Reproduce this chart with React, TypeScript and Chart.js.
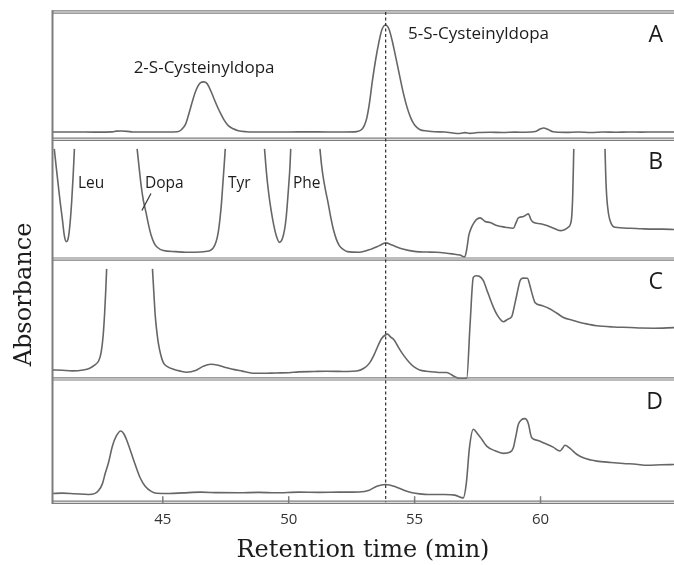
import React, { useEffect, useRef } from 'react';
import { Chart, registerables } from 'chart.js';

Chart.register(...registerables);

// ---- axis / annotation values ----
const X_MIN = 40.6;
const X_MAX = 65.3;
const X_TICKS = [45, 50, 55, 60];
const MARKER_TIME = 53.85; // dashed reference line (5-S-Cysteinyldopa)
const PANEL_NAMES = ['A', 'B', 'C', 'D'];
const X_TITLE = 'Retention time (min)';
const Y_TITLE = 'Absorbance';

// ---- chromatogram traces: [retention time (min), relative absorbance] ----
const PANEL_A: [number, number | null][] = [
  [40.61, 5.0], [41.5, 5.0], [42.3, 4.9], [43.0, 5.1], [43.15, 5.7], [43.35, 5.8], [43.6, 5.5], [43.8, 5.0],
  [44.5, 5.0], [45.2, 5.0], [45.58, 5.2], [45.75, 7], [45.9, 11], [46.0, 17], [46.1, 24], [46.2, 31],
  [46.3, 37], [46.4, 41.5], [46.5, 44], [46.63, 44.7], [46.75, 43.5], [46.85, 40], [46.95, 35.5], [47.05, 30.5],
  [47.19, 24], [47.3, 19.5], [47.45, 14], [47.6, 10], [47.8, 7.5], [48.0, 6], [48.31, 5.2], [48.6, 5.0],
  [49.3, 5.0], [50.0, 5.0], [50.8, 5.1], [51.5, 5.0], [52.2, 5.0], [52.7, 5.3], [52.9, 7], [53.0, 10],
  [53.1, 16], [53.2, 27], [53.32, 45], [53.45, 62], [53.58, 76], [53.7, 86], [53.85, 89.7], [53.98, 86.5],
  [54.1, 78], [54.2, 69], [54.3, 59.5], [54.42, 48], [54.55, 36], [54.7, 24.5], [54.85, 16], [55.0, 10.5],
  [55.2, 7], [55.5, 5.8], [55.8, 5.2], [56.2, 5.0], [56.5, 4.2], [56.8, 3.8], [57.0, 4.5], [57.2, 3.9],
  [57.5, 4.6], [58.0, 4.8], [58.5, 4.6], [59.0, 4.9], [59.4, 4.8], [59.8, 5.4], [60.0, 7.5], [60.12, 8.2],
  [60.3, 7.0], [60.5, 5.2], [61.0, 4.7], [61.5, 5.0], [62.0, 4.6], [62.5, 5.0], [63.0, 4.8], [63.5, 5.0],
  [64.0, 4.9], [64.5, 5.0], [65.3, 5.0],
];

const PANEL_B: [number, number | null][] = [
  [40.69, 92.9], [40.77, 77], [40.85, 61.9], [40.93, 47], [41.01, 33.6], [41.09, 19.5], [41.17, 14.4],
  [41.23, 16], [41.28, 22.3], [41.33, 33], [41.38, 47.7], [41.44, 70.3], [41.49, 92.9], [41.6, null],
  [43.98, 92.9], [44.06, 77], [44.14, 61.9], [44.23, 49], [44.33, 39.3], [44.43, 29], [44.54, 19.5],
  [44.66, 13], [44.78, 9.6], [45.02, 6.8], [45.5, 5.9], [45.9, 5.4], [46.5, 5.6], [46.75, 6.2],
  [46.87, 6.8], [47.0, 9], [47.11, 13.8], [47.2, 22], [47.27, 33.6], [47.33, 47], [47.38, 61.9],
  [47.44, 80], [47.48, 92.9], [48.0, null],
  [49.04, 92.9], [49.12, 72], [49.2, 56.2], [49.3, 41], [49.41, 28.0], [49.52, 18.5], [49.63, 13.8],
  [49.75, 17], [49.84, 25.1], [49.9, 35], [49.95, 47.7], [50.0, 62], [50.05, 78], [50.08, 92.9], [50.6, null],
  [51.24, 92.9], [51.3, 80], [51.36, 70.3], [51.46, 58], [51.56, 47.7], [51.66, 36], [51.77, 25.1],
  [51.89, 16.5], [52.01, 11.0], [52.15, 8], [52.33, 5.9], [52.81, 5.4], [53.29, 8.2], [53.6, 11],
  [53.85, 13.3], [54.1, 11.5], [54.42, 8.8], [54.75, 7], [55.06, 5.9], [55.5, 5.6], [55.86, 5.4],
  [56.2, 4.8], [56.5, 4.0], [56.8, 3.0], [56.99, 1.5], [57.07, 8], [57.15, 19.5], [57.25, 26],
  [57.33, 29.4], [57.45, 33], [57.6, 34.5], [57.8, 31.5], [58.0, 30.5], [58.26, 28], [58.6, 26.6],
  [58.92, 25.7], [59.02, 30], [59.12, 34.5], [59.3, 35.5], [59.52, 37.9], [59.62, 33], [59.71, 30.8],
  [60.0, 29.5], [60.25, 28], [60.5, 26], [60.78, 23.7], [60.95, 24.5], [61.1, 26.5], [61.2, 30],
  [61.24, 36], [61.28, 55], [61.32, 92.9], [61.8, null],
  [62.56, 92.9], [62.59, 70], [62.63, 52], [62.7, 38], [62.76, 32.2], [62.85, 28], [62.96, 26.5],
  [63.56, 25.7], [64.0, 25.3], [64.5, 25], [64.87, 25], [65.3, 24.6],
];

const PANEL_C: [number, number | null][] = [
  [40.61, 7.6], [41.0, 7.2], [41.41, 6.7], [41.84, 7.5], [42.1, 9], [42.29, 11.5], [42.45, 15],
  [42.55, 22], [42.63, 36], [42.69, 55], [42.73, 72], [42.77, 92.2], [43.5, null],
  [44.59, 92.2], [44.65, 70], [44.7, 53], [44.76, 40], [44.82, 30.5], [44.92, 20], [45.02, 13.7],
  [45.2, 10], [45.42, 8.1], [45.7, 6.5], [45.95, 5.6], [46.3, 7.0], [46.6, 10.5], [46.9, 12.3],
  [47.2, 11.5], [47.5, 9.5], [47.8, 8.0], [48.15, 6.5], [48.5, 5.0], [49.0, 4.7], [49.5, 5.0],
  [50.0, 5.2], [50.4, 5.9], [51.0, 6.2], [51.5, 6.4], [52.0, 6.3], [52.33, 6.2], [52.7, 6.6],
  [52.97, 8.7], [53.2, 13], [53.37, 19.3], [53.55, 28], [53.69, 33.9], [53.85, 37], [53.92, 37.5],
  [54.05, 35], [54.18, 32.8], [54.4, 25], [54.58, 19.3], [54.8, 13.5], [54.98, 10], [55.2, 7.5],
  [55.46, 6.4], [55.8, 5.8], [56.02, 5.3], [56.27, 5.3], [56.42, 4.0], [56.54, 2.5], [56.8, 0.3],
  [57.07, 0.5], [57.2, 45], [57.33, 85], [57.45, 86.5], [57.57, 86], [57.73, 82.4], [57.86, 75],
  [58.0, 67], [58.13, 60], [58.26, 54.3], [58.4, 50], [58.52, 47.9], [58.7, 50], [58.86, 52.4],
  [58.95, 60], [59.05, 69.7], [59.19, 82.4], [59.3, 84.5], [59.48, 84.3], [59.58, 78], [59.65, 72.5],
  [59.78, 64.1], [60.05, 61.5], [60.38, 58.6], [60.65, 55], [60.91, 51.5], [61.2, 49.5], [61.57, 47.3],
  [61.9, 45.8], [62.23, 44.5], [62.9, 43.5], [63.56, 43.1], [64.0, 42.6], [64.5, 42.5], [65.3, 43.0],
];

const PANEL_D: [number, number | null][] = [
  [40.61, 7.1], [41.0, 7.4], [41.5, 6.9], [42.05, 6.3], [42.29, 7.0], [42.45, 9.5], [42.6, 15],
  [42.72, 24], [42.84, 32], [43.0, 46], [43.15, 54], [43.33, 58.2], [43.45, 56], [43.58, 50],
  [43.75, 40], [43.9, 31], [44.1, 20], [44.3, 13], [44.54, 8.8], [44.76, 7.3], [45.26, 7.1],
  [45.8, 7.6], [46.5, 8.2], [47.2, 7.8], [48.0, 7.7], [48.8, 8.0], [49.5, 7.7], [50.4, 8.2],
  [51.2, 8.0], [52.0, 8.2], [52.8, 8.4], [53.2, 9.8], [53.5, 13.1], [53.85, 14.5], [54.26, 12.5],
  [54.6, 9.5], [54.9, 7.7], [55.2, 6.8], [55.54, 6.3], [56.18, 6.3], [56.6, 5.8], [56.93, 3.5],
  [57.05, 15], [57.18, 45], [57.33, 59.6], [57.5, 56], [57.68, 51], [57.86, 45.9], [58.2, 42],
  [58.52, 39.9], [58.8, 41], [58.92, 44.5], [59.02, 54], [59.12, 63.7], [59.25, 67.5], [59.38, 68.3],
  [59.52, 64], [59.6, 56], [59.65, 52.7], [59.9, 50.5], [60.11, 48.6], [60.5, 45], [60.77, 41.8],
  [60.87, 44], [60.97, 46.5], [61.17, 44], [61.45, 39], [61.7, 36.3], [62.0, 34.5], [62.23, 33.6],
  [62.8, 32.5], [63.29, 31.7], [63.8, 31], [64.22, 30.2], [64.8, 30.6], [65.3, 30.8],
];

const TRACES = [PANEL_A, PANEL_B, PANEL_C, PANEL_D];
const AXIS_IDS = ['yA', 'yB', 'yC', 'yD'];
const AXIS_RANGES: [number, number][] = [[-0.8, 100], [-0.4, 101], [0, 100.4], [0, 100.8]];
const STACK_WEIGHTS = [127, 119.5, 119.5, 123];

// ---- peak annotations (panel index, text, time, level) ----
const PEAK_LABELS = [
  { panel: 0, text: '2-S-Cysteinyldopa', t: 46.64, v: 51.6, align: 'center', size: 17 },
  { panel: 0, text: '5-S-Cysteinyldopa', t: 54.74, v: 78.3, align: 'left', size: 17 },
  { panel: 1, text: 'Leu', t: 41.63, v: 59.6, align: 'left', size: 15.5 },
  { panel: 1, text: 'Dopa', t: 44.29, v: 59.6, align: 'left', size: 15.5 },
  { panel: 1, text: 'Tyr', t: 47.59, v: 59.6, align: 'left', size: 15.5 },
  { panel: 1, text: 'Phe', t: 50.17, v: 59.6, align: 'left', size: 15.5 },
];
const DOPA_POINTER = { panel: 1, from: [44.17, 40.7], to: [44.53, 55.1] };

const FRAME = '#7d7d7d';
const TRACE = '#666666';
const INK = '#1c1c1c';

const decorPlugin = {
  id: 'decor',
  afterDatasetsDraw(chart: any) {
    const ctx = chart.ctx as CanvasRenderingContext2D;
    const xs = chart.scales.x;
    const ys = AXIS_IDS.map((id) => chart.scales[id]);
    const left = xs.left;
    const right = xs.right;
    ctx.save();

    // panel frames (double rules)
    const edges = [ys[0].top, ys[0].bottom, ys[1].bottom, ys[2].bottom, ys[3].bottom];
    ctx.strokeStyle = FRAME;
    ctx.lineWidth = 1.2;
    edges.forEach((e: number) => {
      [e - 1.1, e + 1.1].forEach((y) => {
        ctx.beginPath();
        ctx.moveTo(left, y);
        ctx.lineTo(right, y);
        ctx.stroke();
      });
    });
    ctx.lineWidth = 2;
    ctx.beginPath();
    ctx.moveTo(left + 0.5, edges[0] - 1.7);
    ctx.lineTo(left + 0.5, edges[4] + 1.7);
    ctx.stroke();

    // inward tick marks on the time axis
    ctx.lineWidth = 1.5;
    X_TICKS.forEach((t) => {
      const px = xs.getPixelForValue(t);
      ctx.beginPath();
      ctx.moveTo(px, edges[4] + 1);
      ctx.lineTo(px, edges[4] - 6);
      ctx.stroke();
    });

    // dashed reference line
    const mx = xs.getPixelForValue(MARKER_TIME);
    ctx.strokeStyle = '#2e2e2e';
    ctx.lineWidth = 1.2;
    ctx.setLineDash([3, 2.5]);
    ctx.beginPath();
    ctx.moveTo(mx, edges[0]);
    ctx.lineTo(mx, edges[4]);
    ctx.stroke();
    ctx.setLineDash([]);

    // peak labels
    ctx.fillStyle = INK;
    ctx.textBaseline = 'alphabetic';
    PEAK_LABELS.forEach((l) => {
      ctx.font = `${l.size}px "Open Sans"`;
      ctx.textAlign = l.align as CanvasTextAlign;
      ctx.fillText(l.text, xs.getPixelForValue(l.t), ys[l.panel].getPixelForValue(l.v));
    });

    // pointer for Dopa
    const py = ys[DOPA_POINTER.panel];
    ctx.strokeStyle = '#333';
    ctx.lineWidth = 1.2;
    ctx.beginPath();
    ctx.moveTo(xs.getPixelForValue(DOPA_POINTER.from[0]), py.getPixelForValue(DOPA_POINTER.from[1]));
    ctx.lineTo(xs.getPixelForValue(DOPA_POINTER.to[0]), py.getPixelForValue(DOPA_POINTER.to[1]));
    ctx.stroke();

    // panel letters
    ctx.font = '23px "Open Sans"';
    ctx.textAlign = 'right';
    PANEL_NAMES.forEach((name, i) => {
      ctx.fillText(name, right - 11, ys[i].top + 30);
    });

    // y-axis title
    ctx.save();
    ctx.translate(31, 294.5);
    ctx.rotate(-Math.PI / 2);
    ctx.font = '24px "DejaVu Serif"';
    ctx.textAlign = 'center';
    ctx.textBaseline = 'alphabetic';
    ctx.fillStyle = INK;
    ctx.fillText(Y_TITLE, 0, 0);
    ctx.restore();

    ctx.restore();
  },
};

export default function App() {
  const canvasRef = useRef<HTMLCanvasElement | null>(null);

  useEffect(() => {
    if (!canvasRef.current) return;
    const yScales: any = {};
    AXIS_IDS.forEach((id, i) => {
      yScales[id] = {
        type: 'linear',
        position: 'left',
        stack: 'panels',
        stackWeight: STACK_WEIGHTS[i],
        weight: AXIS_IDS.length - i,
        min: AXIS_RANGES[i][0],
        max: AXIS_RANGES[i][1],
        display: true,
        ticks: { display: false },
        grid: { display: false, drawTicks: false },
        border: { display: false },
      };
    });

    const chart = new Chart(canvasRef.current, {
      type: 'line',
      data: {
        datasets: TRACES.map((trace, i) => ({
          label: PANEL_NAMES[i],
          data: trace.map(([t, v]) => ({ x: t, y: v })),
          yAxisID: AXIS_IDS[i],
          borderColor: TRACE,
          borderWidth: 1.6,
          pointRadius: 0,
          fill: false,
          spanGaps: false,
          cubicInterpolationMode: 'monotone',
        })),
      },
      options: {
        animation: false,
        responsive: false,
        maintainAspectRatio: false,
        events: [],
        layout: { padding: { left: 52, top: 12, right: 0, bottom: 0 } },
        plugins: {
          legend: { display: false },
          tooltip: { enabled: false },
        },
        scales: {
          x: {
            type: 'linear',
            min: X_MIN,
            max: X_MAX,
            afterBuildTicks: (scale: any) => {
              scale.ticks = X_TICKS.map((v) => ({ value: v }));
            },
            ticks: {
              padding: 8.6,
              color: '#333',
              font: { family: '"Open Sans"', size: 15 },
              maxRotation: 0,
              autoSkip: false,
            },
            grid: { display: false, drawTicks: false },
            border: { display: false },
            title: {
              display: true,
              text: X_TITLE,
              color: INK,
              font: { family: '"DejaVu Serif"', size: 24 },
              padding: { top: -1.2, bottom: 0 },
            },
          },
          ...yScales,
        },
      } as any,
      plugins: [decorPlugin],
    });
    return () => chart.destroy();
  }, []);

  return (
    <div style={{ position: 'fixed', left: 0, top: 0, width: 674, height: 565, background: '#fff' }}>
      <canvas ref={canvasRef} width={674} height={565} style={{ display: 'block', width: 674, height: 565 }} />
    </div>
  );
}
